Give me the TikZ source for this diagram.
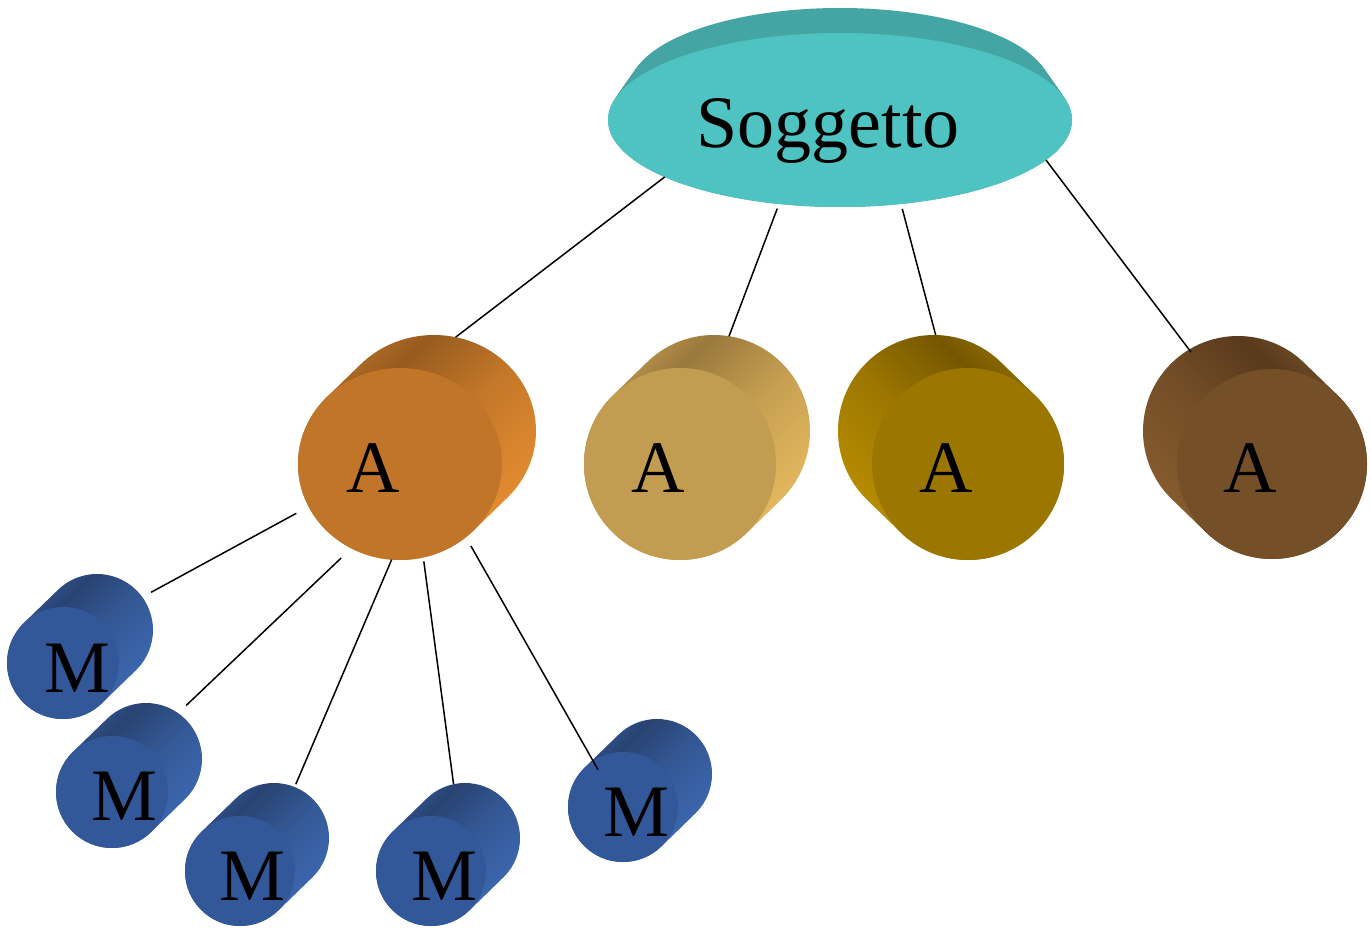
\documentclass[tikz,border=0pt]{standalone}
\usepackage{fontspec}
\setmainfont{Liberation Serif}
\usetikzlibrary{calc,shapes.geometric}
\definecolor{orF}{HTML}{C17528}\definecolor{orE}{HTML}{AE6A25}\definecolor{orD}{HTML}{975B1F}\definecolor{orL}{HTML}{E28B30}
\definecolor{tnF}{HTML}{C29C50}\definecolor{tnE}{HTML}{B38E48}\definecolor{tnD}{HTML}{9A793D}\definecolor{tnL}{HTML}{E2B75E}
\definecolor{gdF}{HTML}{9B7600}\definecolor{gdE}{HTML}{8C6A00}\definecolor{gdD}{HTML}{755700}\definecolor{gdL}{HTML}{B68B00}
\definecolor{brF}{HTML}{744F28}\definecolor{brE}{HTML}{6C4925}\definecolor{brD}{HTML}{583A1C}\definecolor{brL}{HTML}{855A2E}
\definecolor{blF}{HTML}{33589A}\definecolor{blE}{HTML}{30538F}\definecolor{blD}{HTML}{294372}\definecolor{blL}{HTML}{3C67AF}
\definecolor{tlF}{HTML}{4FC2C2}\definecolor{tlS}{HTML}{45A5A5}
\colorlet{sE}{black}\colorlet{sD}{black}\colorlet{sM}{black}\colorlet{sL}{black}
\pgfdeclarehorizontalshading[sE,sD,sM,sL]{cylside}{100bp}{color(0bp)=(sE); color(29bp)=(sE); color(36bp)=(sD); color(52bp)=(sM); color(70bp)=(sL); color(100bp)=(sL)}
\tikzset{
  backnode/.style={ellipse, inner sep=0pt, outer sep=0pt},
  frontnode/.style={ellipse, inner sep=0pt, outer sep=0pt},
  lbl/.style={anchor=base, inner sep=0pt, font=\fontsize{37}{40}\selectfont, text=black},
  link/.style={draw=black, line width=0.75pt},
}
% #1 name, #2 x, #3 y, #4 rx, #5 ry, #6 direction (1 right, -1 left), #7 colour prefix
\newcommand\cyl[7]{%
  \coordinate (#1c) at (#2,#3);
  \node[backnode, minimum width=#4pt, minimum height=#5pt] (#1b) at (#2+34*#6,#3+33) {};
  \colorlet{sE}{#7E}\colorlet{sD}{#7D}\colorlet{sL}{#7L}\colorlet{sM}{#7D!40!#7L}%
  \pgfmathsetmacro\sa{#6>0 ? 180-atan(#5/#4) : atan(#5/#4)}%
  \pgfmathsetmacro\sb{\sa-180*#6}%
  \pgfmathsetmacro\sc{\sb-180*#6}%
  \pgfmathsetmacro\shang{#6>0 ? -45 : -135}%
  \shade[shading=cylside, shading angle=\shang]
    ($(#1c)+(\sa:#4 and #5)$) -- ($(#1b)+(\sa:#4 and #5)$)
    arc[start angle=\sa, end angle=\sb, x radius=#4, y radius=#5]
    -- ($(#1c)+(\sb:#4 and #5)$)
    arc[start angle=\sb, end angle=\sc, x radius=#4, y radius=#5] -- cycle;
  \node[frontnode, minimum width=#4pt, minimum height=#5pt, fill=#7F] (#1) at (#1c) {};
}
\begin{document}
\begin{tikzpicture}[x=0.5pt, y=0.5pt]
\fill[white] (0,0) rectangle (1371,-936);
\useasboundingbox (0,0) rectangle (1371,-936);
% Soggetto disc
\foreach \i in {0,...,30}{
  \fill[tlS] (840,{-88-32*\i/30}) ellipse [x radius={210+22*\i/30}, y radius={80+7*\i/30}];
}
\node[ellipse, fill=tlF, minimum width=232pt, minimum height=87pt, inner sep=0pt, outer sep=0pt] (s) at (840,-120) {};
\node[lbl] (st) at (828,-148) {Soggetto};
% A cylinders
\cyl{a1}{400}{-464}{102}{96}{1}{or}
\cyl{a2}{680}{-464}{96}{96}{1}{tn}
\cyl{a3}{968}{-464}{96}{96}{-1}{gd}
\cyl{a4}{1272}{-464}{95}{95}{-1}{br}
% M cylinders
\cyl{m1}{63}{-663}{56}{56}{1}{bl}
\cyl{m2}{112}{-792}{56}{56}{1}{bl}
\cyl{m3}{240}{-871}{55}{55}{1}{bl}
\cyl{m4}{431}{-871}{55}{55}{1}{bl}
\cyl{m5}{623}{-807}{55}{55}{1}{bl}
% labels
\node[lbl] (a1t) at (373,-492) {A};
\node[lbl] (a2t) at (658,-492) {A};
\node[lbl] (a3t) at (946,-492) {A};
\node[lbl] (a4t) at (1250,-492) {A};
\node[lbl] (m1t) at (77,-692) {M};
\node[lbl] (m2t) at (124.5,-820) {M};
\node[lbl] (m3t) at (252.5,-900) {M};
\node[lbl] (m4t) at (444.5,-900) {M};
\node[lbl] (m5t) at (636,-836) {M};
% connectors
\draw[link] (s.198) -- (a1b.77);
\draw[link, shorten <=2.5pt] (s.234) -- (a2b.81);
\draw[link, shorten <=2.5pt] (s.306) -- (a3b.89);
\draw[link, shorten >=-1.5pt] (s.349) -- (a4b.121);
\draw[link, shorten <=7pt, shorten >=5pt] (a1.205) -- (m1b.36);
\draw[link, shorten <=7pt, shorten >=5.5pt] (a1.240) -- (m2b.55);
\draw[link, shorten >=1.5pt] (a1.265) -- (m3b.68);
\draw[link, shorten <=2pt] (a1.284) -- (m4b.102);
\draw[link, shorten <=5pt, shorten >=-5pt] (a1.312) -- (m5.123);
\end{tikzpicture}
\end{document}
